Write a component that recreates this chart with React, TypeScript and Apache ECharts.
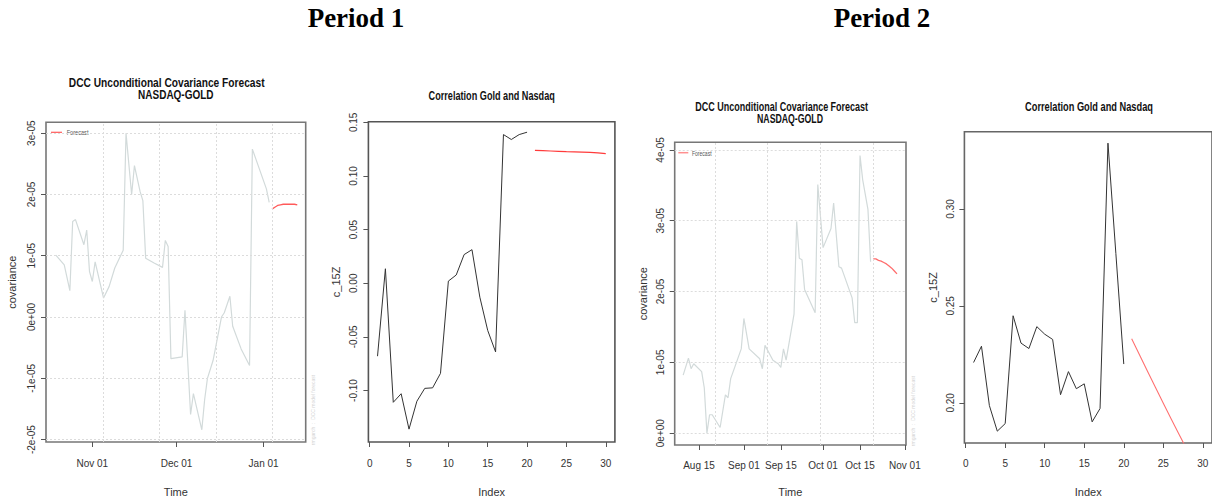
import React, { useEffect, useRef } from 'react';
import * as echarts from 'echarts';

// ---------- DATA ----------
// Period 1: DCC covariance (NASDAQ-GOLD)
const p1CovDates = ['2019-10-19','2019-10-22','2019-10-24','2019-10-25','2019-10-26','2019-10-29','2019-10-30','2019-10-31','2019-11-01','2019-11-02','2019-11-05','2019-11-07','2019-11-09','2019-11-12','2019-11-13','2019-11-15','2019-11-16','2019-11-18','2019-11-19','2019-11-20','2019-11-23','2019-11-26','2019-11-27','2019-11-28','2019-11-29','2019-12-03','2019-12-04','2019-12-06','2019-12-07','2019-12-10','2019-12-11','2019-12-12','2019-12-14','2019-12-17','2019-12-18','2019-12-20','2019-12-21','2019-12-24','2019-12-27','2019-12-28','2020-01-02','2020-01-03'];
const p1CovValues = [1.01e-5,0.85e-5,0.43e-5,1.56e-5,1.59e-5,1.18e-5,1.42e-5,0.74e-5,0.58e-5,0.90e-5,0.31e-5,0.50e-5,0.80e-5,1.09e-5,3.00e-5,2.00e-5,2.47e-5,2.05e-5,1.90e-5,0.96e-5,0.88e-5,0.81e-5,1.25e-5,1.15e-5,-0.68e-5,-0.65e-5,0.11e-5,-1.59e-5,-1.25e-5,-1.84e-5,-1.35e-5,-1.00e-5,-0.71e-5,0.00,0.07e-5,0.34e-5,-0.15e-5,-0.52e-5,-0.79e-5,2.74e-5,2.09e-5,1.87e-5];
const p1FcDates = ['2020-01-04','2020-01-05','2020-01-06','2020-01-07','2020-01-08','2020-01-09','2020-01-10','2020-01-11','2020-01-12','2020-01-13'];
const p1FcValues = [1.76e-5,1.79e-5,1.82e-5,1.83e-5,1.84e-5,1.84e-5,1.84e-5,1.84e-5,1.84e-5,1.83e-5];
const p1XTicks = ['2019-11-01','2019-12-01','2020-01-01'];
const p1VGrid = ['2019-11-05','2019-11-25','2019-12-15','2020-01-04'];
const p1CovYTicks = [-2e-5,-1e-5,0,1e-5,2e-5,3e-5];

// Period 1: correlation Gold and Nasdaq
const p1CorrValues = [-0.068,0.0135,-0.111,-0.103,-0.136,-0.110,-0.098,-0.0975,-0.084,0.002,0.0077,0.0267,0.0313,-0.013,-0.044,-0.064,0.1386,0.134,0.1386,0.1408];
const p1CorrForecast = [0.1239,0.1236,0.1233,0.1230,0.1227,0.1225,0.1223,0.1220,0.1215,0.1208];
const p1CorrYTicks = [-0.10,-0.05,0.00,0.05,0.10,0.15];

// Period 2: DCC covariance (NASDAQ-GOLD)
const p2CovDates = ['2020-08-09','2020-08-11','2020-08-12','2020-08-13','2020-08-16','2020-08-17','2020-08-18','2020-08-19','2020-08-20','2020-08-23','2020-08-25','2020-08-26','2020-08-27','2020-08-31','2020-09-01','2020-09-03','2020-09-07','2020-09-08','2020-09-09','2020-09-12','2020-09-14','2020-09-15','2020-09-16','2020-09-17','2020-09-20','2020-09-21','2020-09-22','2020-09-23','2020-09-24','2020-09-28','2020-09-29','2020-10-01','2020-10-04','2020-10-05','2020-10-07','2020-10-08','2020-10-12','2020-10-13','2020-10-14','2020-10-15','2020-10-16','2020-10-18','2020-10-19'];
const p2CovValues = [0.82e-5,1.06e-5,0.91e-5,0.98e-5,0.87e-5,0.64e-5,0.00,0.26e-5,0.26e-5,0.08e-5,0.54e-5,0.50e-5,0.77e-5,1.19e-5,1.62e-5,1.19e-5,1.05e-5,0.91e-5,1.24e-5,1.03e-5,0.98e-5,0.93e-5,1.19e-5,1.03e-5,1.68e-5,2.99e-5,2.47e-5,2.45e-5,2.03e-5,1.70e-5,3.51e-5,2.62e-5,2.89e-5,3.25e-5,2.35e-5,2.33e-5,1.91e-5,1.56e-5,1.56e-5,3.92e-5,3.58e-5,3.16e-5,2.42e-5];
const p2FcDates = ['2020-10-20','2020-10-21','2020-10-22','2020-10-23','2020-10-24','2020-10-25','2020-10-26','2020-10-27','2020-10-28','2020-10-29'];
const p2FcValues = [2.46e-5,2.46e-5,2.44e-5,2.43e-5,2.41e-5,2.39e-5,2.36e-5,2.33e-5,2.29e-5,2.25e-5];
const p2XTicks = ['2020-08-15','2020-09-01','2020-09-15','2020-10-01','2020-10-15','2020-11-01'];
const p2VGrid = ['2020-08-21','2020-09-10','2020-09-30','2020-10-20'];
const p2CovYTicks = [0,1e-5,2e-5,3e-5,4e-5];

// Period 2: correlation Gold and Nasdaq
const p2CorrValues = [0.2208,0.2292,0.1986,0.1854,0.1893,0.2449,0.2308,0.2280,0.2393,0.2354,0.2327,0.2042,0.2161,0.2073,0.2098,0.1902,0.1971,0.3339,0.2770,0.2200];
const p2CorrForecast = [0.2331,0.2247,0.2163,0.2080,0.1998,0.1917,0.1837,0.1758,0.1680,0.1603];
const p2CorrYTicks = [0.20,0.25,0.30];

const corrXTicks = [0,5,10,15,20,25,30];

// ---------- HELPERS ----------
const MONTHS = ['Jan','Feb','Mar','Apr','May','Jun','Jul','Aug','Sep','Oct','Nov','Dec'];
const ts = (s: string) => Date.parse(s + 'T00:00:00Z');
const fmtDate = (v: number) => {
  const d = new Date(v);
  return MONTHS[d.getUTCMonth()] + ' ' + String(d.getUTCDate()).padStart(2, '0');
};
const fmtSci = (v: number) => {
  const [m, e] = v.toExponential(0).split('e');
  const n = parseInt(e, 10);
  return m + 'e' + (n < 0 ? '-' : '+') + String(Math.abs(n)).padStart(2, '0');
};
const pairs = (xs: any[], ys: number[], f: (x: any) => number) => xs.map((x, i) => [f(x), ys[i]]);
const idx = (start: number, ys: number[]) => ys.map((y, i) => [start + i, y]);

const NARROW = "'Liberation Sans Narrow', 'Liberation Sans', Arial, sans-serif";
const SANS = "'Liberation Sans', Arial, sans-serif";
const TXT = '#333';

const xAxisBase = (gi: number, min: number, max: number, ticks: number[], fmt: (v: number) => string, name: string, gap: number, margin: number) => ({
  type: 'value', gridIndex: gi, min, max,
  axisLine: { show: false, onZero: false },
  splitLine: { show: false },
  axisTick: { show: true, inside: false, length: 5, customValues: ticks, lineStyle: { color: '#555', width: 1 } },
  axisLabel: { customValues: ticks, formatter: fmt, margin, color: TXT, fontSize: 10, fontFamily: NARROW },
  name, nameLocation: 'middle', nameGap: gap,
  nameTextStyle: { color: TXT, fontSize: 11, fontFamily: NARROW },
});
const yAxisBase = (gi: number, min: number, max: number, ticks: number[], fmt: (v: number) => string, name: string, gap: number, margin: number) => ({
  type: 'value', gridIndex: gi, min, max,
  axisLine: { show: false, onZero: false },
  splitLine: { show: false },
  axisTick: { show: true, inside: false, length: 5, customValues: ticks, lineStyle: { color: '#555', width: 1 } },
  axisLabel: { customValues: ticks, formatter: fmt, margin, rotate: 90, color: TXT, fontSize: 10, fontFamily: SANS },
  name, nameLocation: 'middle', nameGap: gap, nameRotate: 90,
  nameTextStyle: { color: TXT, fontSize: 11, fontFamily: SANS },
});

// dotted reference grid (R's grid()) drawn as a markLine on the covariance series
const gridMarkLine = (xs: number[], ys: number[]) => ({
  silent: true, symbol: ['none', 'none'], label: { show: false }, precision: 10,
  lineStyle: { color: '#dcdcdc', type: [2, 2], width: 1 },
  emphasis: { disabled: true },
  data: [...xs.map((x) => ({ xAxis: x })), ...ys.map((y) => ({ yAxis: y }))],
});

const titleText = (text: string, x: number, y: number, sx: number, size = 12.5) => ({
  type: 'text', x, y, scaleX: sx, silent: true,
  style: { text, fill: '#111', fontSize: size, fontWeight: 'bold', fontFamily: SANS, textAlign: 'center', textVerticalAlign: 'middle' },
});

export default function App() {
  const ref = useRef<HTMLDivElement>(null);
  useEffect(() => {
    if (!ref.current) return;
    const chart = echarts.init(ref.current, null, { renderer: 'svg' });
    const option: any = {
      animation: false,
      backgroundColor: '#ffffff',
      grid: [
        { left: 46, top: 122.3, width: 259.7, height: 323.4, show: true, borderColor: '#777', borderWidth: 1.6, backgroundColor: 'transparent' },
        { left: 368.4, top: 121.7, width: 246.5, height: 324, show: true, borderColor: '#555', borderWidth: 1.6, backgroundColor: 'transparent' },
        { left: 674.7, top: 142.3, width: 231.3, height: 307, show: true, borderColor: '#777', borderWidth: 1.6, backgroundColor: 'transparent' },
        { left: 964.4, top: 131.7, width: 249.3, height: 315.6, show: true, borderColor: '#666', borderWidth: 1.6, backgroundColor: 'transparent' },
      ],
      xAxis: [
        xAxisBase(0, Date.UTC(2019, 9, 15, 12), Date.UTC(2020, 0, 16), p1XTicks.map(ts), fmtDate, 'Time', 44, 16),
        xAxisBase(1, -0.16, 31.16, corrXTicks, (v: number) => String(v), 'Index', 44, 16),
        xAxisBase(2, Date.UTC(2020, 7, 5, 19), Date.UTC(2020, 10, 1, 10), p2XTicks.map(ts), fmtDate, 'Time', 41, 15),
        xAxisBase(3, -0.16, 31.16, corrXTicks, (v: number) => String(v), 'Index', 43, 15),
      ],
      yAxis: [
        yAxisBase(0, -2.039e-5, 3.177e-5, p1CovYTicks, fmtSci, 'covariance', 28.5, 10),
        yAxisBase(1, -0.148, 0.1506, p1CorrYTicks, (v: number) => v.toFixed(2), 'c_15Z', 27, 10),
        yAxisBase(2, -0.167e-5, 4.107e-5, p2CovYTicks, fmtSci, 'covariance', 26, 9),
        yAxisBase(3, 0.1793, 0.3398, p2CorrYTicks, (v: number) => v.toFixed(2), 'c_15Z', 25.5, 9),
      ],
      series: [
        { type: 'line', name: 'P1 covariance', xAxisIndex: 0, yAxisIndex: 0, z: 2, symbol: 'none', data: pairs(p1CovDates, p1CovValues, ts), lineStyle: { color: '#d2dada', width: 1.2 }, markLine: gridMarkLine(p1VGrid.map(ts), p1CovYTicks) },
        { type: 'line', name: 'Forecast', xAxisIndex: 0, yAxisIndex: 0, z: 3, symbol: 'none', data: pairs(p1FcDates, p1FcValues, ts), lineStyle: { color: '#ff5a5a', width: 1.3 } },
        { type: 'line', name: 'P1 correlation', xAxisIndex: 1, yAxisIndex: 1, z: 2, symbol: 'none', data: idx(1, p1CorrValues), lineStyle: { color: '#333', width: 1 } },
        { type: 'line', name: 'P1 correlation forecast', xAxisIndex: 1, yAxisIndex: 1, z: 3, symbol: 'none', data: idx(21, p1CorrForecast), lineStyle: { color: '#ff3b3b', width: 1.2 } },
        { type: 'line', name: 'P2 covariance', xAxisIndex: 2, yAxisIndex: 2, z: 2, symbol: 'none', data: pairs(p2CovDates, p2CovValues, ts), lineStyle: { color: '#d2dada', width: 1.2 }, markLine: gridMarkLine(p2VGrid.map(ts), p2CovYTicks) },
        { type: 'line', name: 'Forecast ', xAxisIndex: 2, yAxisIndex: 2, z: 3, symbol: 'none', data: pairs(p2FcDates, p2FcValues, ts), lineStyle: { color: '#ff6e6e', width: 1.3 } },
        { type: 'line', name: 'P2 correlation', xAxisIndex: 3, yAxisIndex: 3, z: 2, symbol: 'none', data: idx(1, p2CorrValues), lineStyle: { color: '#333', width: 1 } },
        { type: 'line', name: 'P2 correlation forecast', xAxisIndex: 3, yAxisIndex: 3, z: 3, symbol: 'none', data: idx(21, p2CorrForecast), lineStyle: { color: '#ff7070', width: 1.1 } },
      ],
      graphic: [
        { type: 'text', x: 356, y: 18, silent: true, style: { text: 'Period 1', fill: '#000', fontSize: 27, fontWeight: 'bold', fontFamily: "'Liberation Serif', 'Times New Roman', serif", textAlign: 'center', textVerticalAlign: 'middle' } },
        { type: 'text', x: 882, y: 18, silent: true, style: { text: 'Period 2', fill: '#000', fontSize: 27, fontWeight: 'bold', fontFamily: "'Liberation Serif', 'Times New Roman', serif", textAlign: 'center', textVerticalAlign: 'middle' } },
        titleText('DCC Unconditional Covariance Forecast', 166.7, 82.7, 0.815),
        titleText('NASDAQ-GOLD', 175.8, 95, 0.8),
        titleText('Correlation Gold and Nasdaq', 491.7, 95, 0.73),
        titleText('DCC Unconditional Covariance Forecast', 781.7, 106, 0.72),
        titleText('NASDAQ-GOLD', 790, 118.3, 0.7),
        titleText('Correlation Gold and Nasdaq', 1089, 106.7, 0.74),
        // legends
        { type: 'line', silent: true, shape: { x1: 51, y1: 132.3, x2: 62, y2: 132.3 }, style: { stroke: '#ff5a5a', lineWidth: 1.2 } },
        { type: 'text', x: 66.7, y: 132.3, scaleX: 0.8, silent: true, style: { text: 'Forecast', fill: '#555', fontSize: 7, fontFamily: SANS, textAlign: 'left', textVerticalAlign: 'middle' } },
        { type: 'line', silent: true, shape: { x1: 678.3, y1: 152.7, x2: 688.3, y2: 152.7 }, style: { stroke: '#ff9090', lineWidth: 1.5 } },
        { type: 'text', x: 692, y: 152.7, scaleX: 0.72, silent: true, style: { text: 'Forecast', fill: '#555', fontSize: 7, fontFamily: SANS, textAlign: 'left', textVerticalAlign: 'middle' } },
        // watermarks
        { type: 'text', x: 313.3, y: 410, rotation: Math.PI / 2, silent: true, style: { text: 'rmgarch  :  DCC model forecast', fill: '#d4d4d4', fontSize: 5, fontFamily: SANS, textAlign: 'center', textVerticalAlign: 'middle' } },
        { type: 'text', x: 912.7, y: 411, rotation: Math.PI / 2, silent: true, style: { text: 'rmgarch  :  DCC model forecast', fill: '#d4d4d4', fontSize: 5, fontFamily: SANS, textAlign: 'center', textVerticalAlign: 'middle' } },
      ],
    };
    chart.setOption(option);
    return () => chart.dispose();
  }, []);
  return <div ref={ref} style={{ position: 'absolute', left: 0, top: 0, width: 1212, height: 502 }} />;
}
